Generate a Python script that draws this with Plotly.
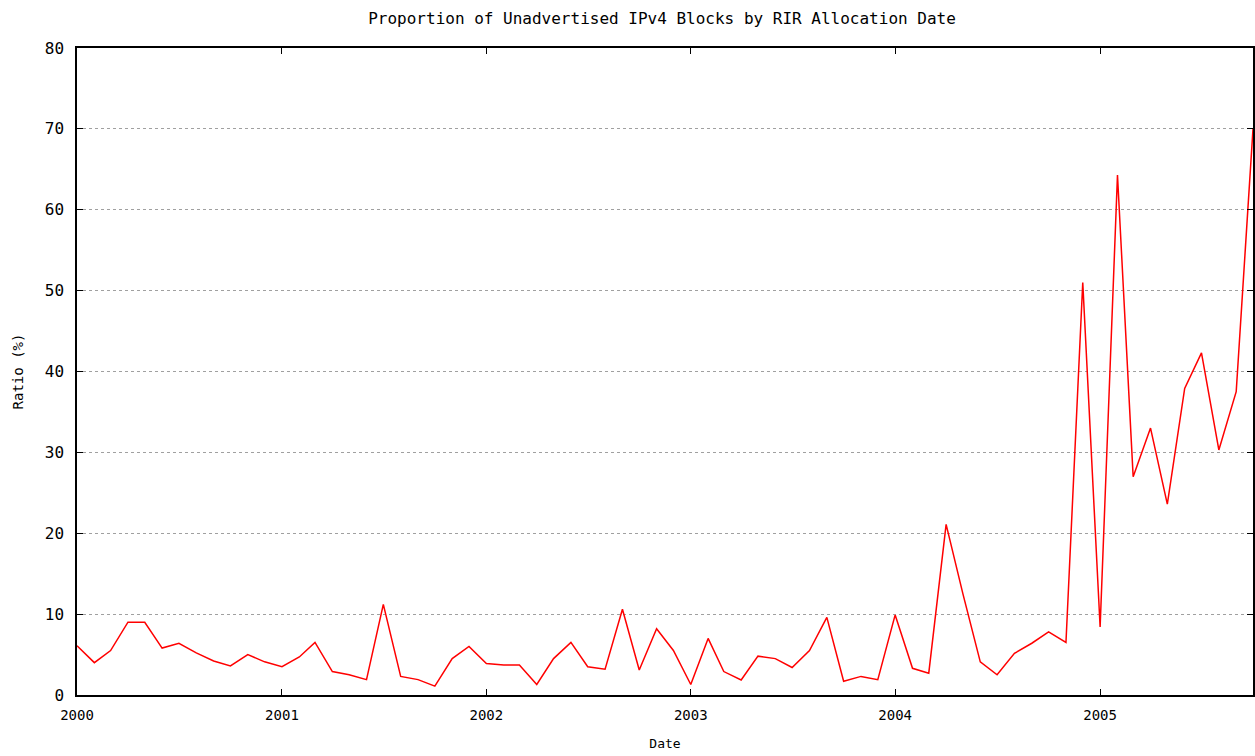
import plotly.graph_objects as go
import pandas as pd

# Monthly values (first of month), Jan 2000 .. Oct 2005
values_2000 = [6.1, 4.0, 5.5, 9.0, 9.0, 5.8, 6.4, 5.2, 4.2, 3.6, 5.0, 4.1]
values_2001 = [3.5, 4.7, 6.5, 2.9, 2.5, 1.9, 11.2, 2.3, 1.9, 1.1, 4.5, 6.0]
values_2002 = [3.9, 3.7, 3.7, 1.3, 4.5, 6.5, 3.5, 3.2, 10.6, 3.1, 8.2, 5.5]
values_2003 = [1.3, 7.0, 2.9, 1.85, 4.8, 4.5, 3.4, 5.5, 9.6, 1.7, 2.3, 1.9]
values_2004 = [9.9, 3.3, 2.7, 21.1, 12.5, 4.1, 2.5, 5.15, 6.4, 7.8, 6.5, 51.0]
values_2005 = [8.4, 64.3, 27.0, 33.0, 23.6, 37.9, 42.3, 30.3, 37.5, 70.0]

ratios = values_2000 + values_2001 + values_2002 + values_2003 + values_2004 + values_2005
dates = [d.strftime("%Y-%m-%d") for d in pd.date_range("2000-01-01", periods=len(ratios), freq="MS")]

year_ticks = ["2000-01-01", "2001-01-01", "2002-01-01", "2003-01-01", "2004-01-01", "2005-01-01"]
year_labels = ["2000", "2001", "2002", "2003", "2004", "2005"]
y_ticks = [0, 10, 20, 30, 40, 50, 60, 70, 80]

mono = "DejaVu Sans Mono"

fig = go.Figure()
fig.add_trace(go.Scatter(
    x=dates, y=ratios, mode="lines",
    line=dict(color="#ff0000", width=1.5),
    showlegend=False,
))

fig.update_layout(
    width=1255, height=756,
    margin=dict(l=77, r=2, t=48, b=61),
    paper_bgcolor="white", plot_bgcolor="white",
    title=dict(text="Proportion of Unadvertised IPv4 Blocks by RIR Allocation Date",
               x=0.5275, xanchor="center", y=0.976, yanchor="middle",
               font=dict(family=mono, size=16, color="black")),
    font=dict(family=mono, size=14, color="black"),
)

fig.update_xaxes(
    range=[dates[0], dates[-1]],
    tickvals=year_ticks, ticktext=year_labels,
    ticks="inside", ticklen=6, tickcolor="black", tickwidth=1,
    showline=True, linecolor="black", linewidth=1.5, mirror="allticks",
    showgrid=False, zeroline=False, automargin=False,
    ticklabelstandoff=6,
    tickfont=dict(family=mono, size=14),
    title=dict(text="Date", font=dict(family=mono, size=13), standoff=17),
)
fig.update_yaxes(
    range=[0, 80],
    tickvals=y_ticks,
    ticks="inside", ticklen=6, tickcolor="black", tickwidth=1,
    showline=True, linecolor="black", linewidth=1.5, mirror="allticks",
    showgrid=True, gridcolor="#a0a0a0", griddash="dot", gridwidth=1,
    zeroline=False, automargin=False,
    ticklabelstandoff=8,
    tickfont=dict(family=mono, size=16),
    title=dict(text="Ratio (%)", font=dict(family=mono, size=14), standoff=18),
)

fig.write_html("out.html", post_script="document.body.style.margin='0';",
               config={"displayModeBar": False})
